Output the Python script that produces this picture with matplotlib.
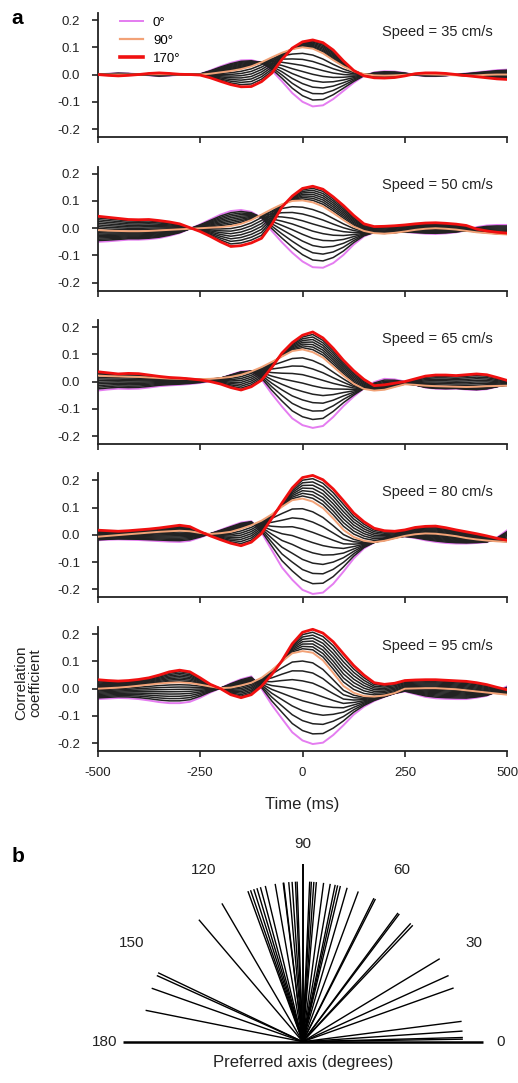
import numpy as np
import matplotlib
matplotlib.use("Agg")
import matplotlib.pyplot as plt
from matplotlib.lines import Line2D

plt.rcParams['font.family'] = ['Liberation Sans', 'DejaVu Sans']
plt.rcParams['axes.unicode_minus'] = False

# ---- data ----
time_ms = [-500, -475, -450, -425, -400, -375, -350, -325, -300, -275, -250,
           -225, -200, -175, -150, -125, -100, -75, -50, -25, 0,
           25, 50, 75, 100, 125, 150, 175, 200, 225, 250,
           275, 300, 325, 350, 375, 400, 425, 450, 475, 500]
orientations_deg = [0, 10, 20, 30, 40, 50, 60, 70, 80, 90,
                    100, 110, 120, 130, 140, 150, 160, 170]
speeds = [35, 50, 65, 80, 95]

# correlation curves for the 0, 90 and 170 degree axes, one set per speed
c0_35 = [0.000, 0.003, 0.005, 0.004, 0.001, -0.003, -0.006, -0.004, -0.001, 0.000,
         0.002, 0.015, 0.030, 0.043, 0.052, 0.053, 0.044, 0.015, -0.025, -0.068,
         -0.100, -0.117, -0.113, -0.090, -0.060, -0.030, -0.005, 0.008, 0.012, 0.011,
         0.006, -0.002, -0.006, -0.006, -0.004, 0.000, 0.004, 0.008, 0.012, 0.016, 0.018]
c90_35 = [0.000, 0.000, 0.000, 0.000, 0.000, 0.001, 0.001, 0.001, 0.000, 0.000,
          0.000, 0.003, 0.008, 0.013, 0.020, 0.030, 0.045, 0.063, 0.080, 0.093,
          0.100, 0.095, 0.078, 0.053, 0.030, 0.012, 0.002, -0.003, -0.004, -0.003,
          -0.001, 0.001, 0.001, 0.000, -0.001, -0.003, -0.004, -0.003, -0.001, 0.000, 0.000]
c170_35 = [0.000, -0.003, -0.005, -0.003, 0.000, 0.004, 0.006, 0.004, 0.001, 0.000,
           -0.002, -0.012, -0.025, -0.037, -0.045, -0.044, -0.026, 0.005, 0.056, 0.097,
           0.120, 0.127, 0.117, 0.090, 0.050, 0.015, -0.005, -0.012, -0.013, -0.011,
           -0.005, 0.003, 0.006, 0.006, 0.004, 0.000, -0.004, -0.008, -0.012, -0.016, -0.018]

c0_50 = [-0.050, -0.048, -0.045, -0.042, -0.042, -0.040, -0.036, -0.028, -0.018, -0.002,
         0.014, 0.032, 0.050, 0.063, 0.067, 0.060, 0.038, -0.010, -0.052, -0.090,
         -0.122, -0.143, -0.145, -0.128, -0.098, -0.060, -0.030, -0.015, -0.012, -0.012,
         -0.014, -0.017, -0.020, -0.021, -0.019, -0.015, -0.008, 0.004, 0.010, 0.012, 0.012]
c90_50 = [-0.007, -0.009, -0.010, -0.011, -0.011, -0.010, -0.008, -0.006, -0.004, -0.002,
          0.000, 0.002, 0.004, 0.008, 0.016, 0.030, 0.050, 0.070, 0.088, 0.100,
          0.102, 0.095, 0.080, 0.056, 0.030, 0.006, -0.010, -0.018, -0.020, -0.017,
          -0.012, -0.006, -0.002, 0.000, -0.002, -0.005, -0.010, -0.015, -0.018, -0.021, -0.023]
c170_50 = [0.044, 0.040, 0.036, 0.032, 0.031, 0.032, 0.028, 0.023, 0.016, 0.002,
           -0.012, -0.030, -0.050, -0.067, -0.064, -0.054, -0.037, 0.014, 0.078, 0.118,
           0.146, 0.154, 0.143, 0.115, 0.083, 0.047, 0.016, 0.006, 0.007, 0.009,
           0.012, 0.016, 0.019, 0.020, 0.018, 0.015, 0.010, -0.003, -0.010, -0.015, -0.018]

c0_65 = [-0.033, -0.029, -0.026, -0.027, -0.026, -0.022, -0.017, -0.014, -0.012, -0.009,
         -0.005, 0.002, 0.012, 0.025, 0.037, 0.038, 0.008, -0.045, -0.092, -0.135,
         -0.160, -0.170, -0.163, -0.130, -0.090, -0.055, -0.025, -0.002, 0.010, 0.008,
         0.000, -0.012, -0.022, -0.026, -0.027, -0.026, -0.029, -0.031, -0.028, -0.019, -0.008]
c90_65 = [0.022, 0.020, 0.019, 0.018, 0.017, 0.015, 0.013, 0.011, 0.010, 0.009,
          0.009, 0.010, 0.013, 0.017, 0.025, 0.037, 0.053, 0.072, 0.092, 0.112,
          0.118, 0.108, 0.088, 0.055, 0.022, -0.008, -0.027, -0.033, -0.030, -0.020,
          -0.010, -0.012, -0.015, -0.017, -0.018, -0.019, -0.020, -0.019, -0.017, -0.016, -0.015]
c170_65 = [0.036, 0.032, 0.028, 0.030, 0.029, 0.024, 0.019, 0.015, 0.013, 0.010,
           0.006, 0.000, -0.009, -0.022, -0.031, -0.019, 0.005, 0.052, 0.105, 0.143,
           0.170, 0.182, 0.160, 0.122, 0.078, 0.040, 0.008, -0.015, -0.012, -0.006,
           0.000, 0.010, 0.020, 0.024, 0.024, 0.022, 0.025, 0.028, 0.025, 0.015, 0.004]

c0_80 = [-0.020, -0.018, -0.017, -0.018, -0.019, -0.021, -0.023, -0.025, -0.026, -0.022,
         -0.010, 0.004, 0.018, 0.032, 0.045, 0.050, 0.008, -0.056, -0.120, -0.165,
         -0.202, -0.217, -0.212, -0.180, -0.135, -0.087, -0.050, -0.028, -0.011, -0.004,
         -0.006, -0.012, -0.020, -0.026, -0.030, -0.032, -0.032, -0.030, -0.027, -0.010, 0.017]
c90_80 = [-0.007, -0.004, -0.001, 0.002, 0.005, 0.008, 0.011, 0.013, 0.015, 0.013,
          0.007, 0.003, 0.006, 0.011, 0.022, 0.035, 0.052, 0.075, 0.103, 0.127,
          0.133, 0.122, 0.098, 0.060, 0.018, -0.008, -0.022, -0.027, -0.022, -0.013,
          -0.004, 0.002, 0.005, 0.004, 0.000, -0.005, -0.012, -0.017, -0.021, -0.024, -0.026]
c170_80 = [0.017, 0.015, 0.013, 0.015, 0.018, 0.021, 0.025, 0.030, 0.035, 0.030,
           0.012, -0.004, -0.018, -0.031, -0.040, -0.027, 0.005, 0.060, 0.117, 0.172,
           0.210, 0.218, 0.202, 0.168, 0.125, 0.080, 0.048, 0.024, 0.015, 0.013,
           0.018, 0.027, 0.031, 0.032, 0.026, 0.018, 0.011, 0.004, -0.004, -0.013, -0.020]

c0_95 = [-0.038, -0.036, -0.034, -0.035, -0.038, -0.043, -0.049, -0.053, -0.053, -0.048,
         -0.033, -0.014, 0.002, 0.020, 0.035, 0.045, 0.000, -0.059, -0.110, -0.160,
         -0.190, -0.203, -0.198, -0.170, -0.134, -0.095, -0.066, -0.045, -0.030, -0.017,
         -0.010, -0.020, -0.030, -0.035, -0.037, -0.038, -0.038, -0.033, -0.026, -0.009, 0.009]
c90_95 = [0.000, 0.002, 0.004, 0.007, 0.011, 0.015, 0.019, 0.022, 0.023, 0.021,
          0.015, 0.008, 0.002, 0.004, 0.012, 0.022, 0.040, 0.068, 0.100, 0.130,
          0.138, 0.132, 0.104, 0.058, 0.010, -0.015, -0.027, -0.029, -0.025, -0.016,
          0.000, 0.001, 0.002, 0.002, 0.000, -0.002, -0.006, -0.010, -0.014, -0.018, -0.022]
c170_95 = [0.033, 0.030, 0.028, 0.030, 0.034, 0.040, 0.050, 0.062, 0.068, 0.062,
           0.040, 0.016, 0.000, -0.022, -0.033, -0.022, 0.009, 0.052, 0.103, 0.165,
           0.207, 0.218, 0.204, 0.172, 0.128, 0.085, 0.050, 0.022, 0.016, 0.020,
           0.030, 0.032, 0.033, 0.033, 0.031, 0.029, 0.027, 0.022, 0.015, 0.005, -0.004]

panel_curves = [(c0_35, c90_35, c170_35), (c0_50, c90_50, c170_50),
                (c0_65, c90_65, c170_65), (c0_80, c90_80, c170_80),
                (c0_95, c90_95, c170_95)]

# panel b: preferred axis of each cell (degrees)
preferred_axis_deg = [0.9, 1.5, 3.8, 7.3, 19.6, 24.4, 31.2, 46.6, 47.6, 52.9, 53.5,
                      63.0, 63.6, 69.7, 73.9, 76.4, 77.4, 78.3, 80.1, 82.5, 85.1,
                      86.0, 86.9, 87.5, 92.0, 92.6, 93.8, 95.0, 96.8, 97.0, 99.9,
                      103.5, 105.3, 106.6, 107.8, 109.0, 110.0, 120.3, 130.4,
                      154.5, 155.6, 160.5, 168.7]
axis_line_length = 0.89
angle_labels = [0, 30, 60, 90, 120, 150, 180]

MAGENTA = '#e47cf0'
ORANGE = '#f2a277'
RED = '#f01010'
DARK = '#222222'


def curve_family(c0, c90, c170, thetas):
    # in-between axes: step evenly from the 0 deg curve to 90 deg, then on to 170 deg
    c0, c90, c170 = np.asarray(c0), np.asarray(c90), np.asarray(c170)
    out = []
    for th in thetas:
        if th <= 90:
            w = th / 90
            out.append(c0 + w * (c90 - c0))
        else:
            w = (th - 90) / 80
            out.append(c90 + w * (c170 - c90))
    return out


fig = plt.figure(figsize=(5.18, 10.83), dpi=100)

left, width, height = 97.7 / 518, 409.6 / 518, 124 / 1083
bottoms = [0.8733, 0.7314, 0.5898, 0.4483, 0.3062]

for k, (spd, (c0, c90, c170)) in enumerate(zip(speeds, panel_curves)):
    ax = fig.add_axes([left, bottoms[k], width, height])
    fam = curve_family(c0, c90, c170, orientations_deg)
    ax.plot(time_ms, fam[0], color=MAGENTA, lw=1.4, zorder=2)
    for th, y in zip(orientations_deg, fam):
        if th in (0, 90, 170):
            continue
        ax.plot(time_ms, y, color=DARK, lw=1.1, zorder=3)
    ax.plot(time_ms, fam[orientations_deg.index(90)], color=ORANGE, lw=1.4, zorder=4)
    ax.plot(time_ms, fam[-1], color=RED, lw=2.0, zorder=5)

    ax.set_xlim(-500, 500)
    ax.set_ylim(-0.23, 0.225)
    ax.set_yticks([-0.2, -0.1, 0.0, 0.1, 0.2])
    ax.set_yticklabels(['-0.2', '-0.1', '0.0', '0.1', '0.2'])
    ax.set_xticks([-500, -250, 0, 250, 500])
    for side in ('top', 'right'):
        ax.spines[side].set_visible(False)
    for side in ('left', 'bottom'):
        ax.spines[side].set_linewidth(1.3)
        ax.spines[side].set_color('#222222')
    ax.tick_params(direction='out', length=4.5, width=1.2, color='#222222',
                   labelsize=9.5, labelcolor='#222222')
    ax.tick_params(axis='y', pad=8)
    ax.tick_params(axis='x', pad=7)
    if k < 4:
        ax.set_xticklabels([])
    ax.text(195, 0.157, f'Speed = {spd} cm/s', fontsize=10.5, ha='left', va='center',
            color='#222222')

    if k == 0:
        handles = [Line2D([], [], color=MAGENTA, lw=1.4),
                   Line2D([], [], color=ORANGE, lw=1.6),
                   Line2D([], [], color=RED, lw=2.6)]
        ax.legend(handles, ['0°', '90°', '170°'], loc='upper left',
                  bbox_to_anchor=(0.0544, 0.975), frameon=False, fontsize=9.5,
                  borderpad=0, borderaxespad=0, handlelength=1.75,
                  handletextpad=0.75, labelspacing=0.45)

fig.text(17 / 518, 1 - 18 / 1083, 'a', fontsize=15, fontweight='bold', ha='center', va='center')
fig.text(302.5 / 518, 1 - 805 / 1083, 'Time (ms)', fontsize=12, ha='center', va='center',
         color='#222222')
fig.text(28 / 518, 1 - 683 / 1083, 'Correlation\ncoefficient', fontsize=11, rotation=90,
         ha='center', va='center', linespacing=1.0, color='#222222')

# ---- panel b ----
fig.text(18 / 518, 1 - 857 / 1083, 'b', fontsize=15, fontweight='bold', ha='center', va='center')
axb = fig.add_axes([77.7 / 518, 1 - 1081.3 / 1083, 450 / 518, 246.6 / 1083])
axb.set_xlim(-1.25, 1.25)
axb.set_ylim(-0.22, 1.15)
axb.axis('off')
for ang in preferred_axis_deg:
    r = np.deg2rad(ang)
    axb.plot([0, axis_line_length * np.cos(r)], [0, axis_line_length * np.sin(r)],
             color='black', lw=1.0, solid_capstyle='butt')
axb.plot([-1, 1], [0, 0], color='black', lw=1.8, solid_capstyle='butt')
axb.plot([0, 0], [0, 0.99], color='black', lw=1.4, solid_capstyle='butt')
for ang in angle_labels:
    r = np.deg2rad(ang)
    axb.text(1.1 * np.cos(r), 1.1 * np.sin(r), str(ang), fontsize=11, ha='center',
             va='center', color='#222222')
axb.text(0, -0.118, 'Preferred axis (degrees)', fontsize=12, ha='center', va='center',
         color='#222222')

fig.savefig('out.png', dpi=100)
